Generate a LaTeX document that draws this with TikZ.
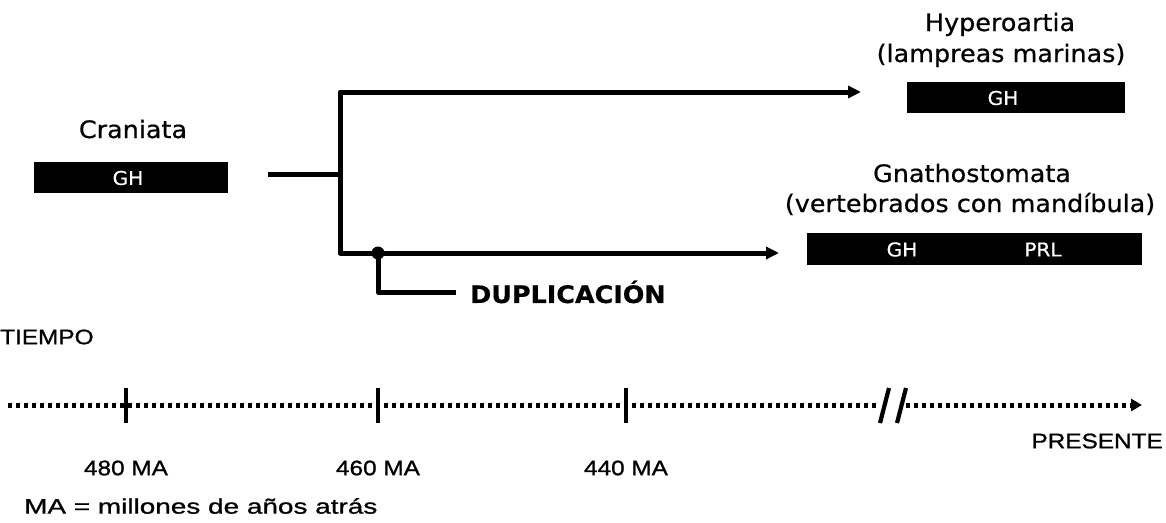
\documentclass[tikz,border=0pt]{standalone}
\usepackage{fontspec}
\setmainfont{DejaVu Sans}[FakeStretch=1.06, FakeBold=0.6]
\newfontfamily\arialf{Liberation Sans}[FakeStretch=1.16, FakeBold=1]
\newfontfamily\arialw{Liberation Sans}[FakeStretch=1.33, FakeBold=1]
\usetikzlibrary{arrows.meta}
\tikzset{
  lbl/.style={font=\fontsize{24}{29}\selectfont, inner sep=0pt},
  genebar/.style={fill=black, draw=none, inner sep=0pt},
  gene/.style={text=white, font=\fontsize{19}{21}\selectfont, inner sep=0pt},
  treeline/.style={line width=5pt, line join=round},
  tip/.style={-{Triangle[length=13pt,width=12pt]}},
  dupdot/.style={circle, fill=black, inner sep=0pt, minimum size=13pt},
  axisline/.style={line width=5pt, dash pattern=on 4pt off 4pt},
  tickline/.style={line width=4.2pt},
  tl/.style={font=\arialf\fontsize{21}{24}\selectfont, inner sep=0pt},
}
\begin{document}
\begin{tikzpicture}[x=1pt, y=-1pt]
\useasboundingbox (0,0) rectangle (1166,522);
% labels of taxa
\node[lbl, anchor=base] (hyp) at (1000,31) {Hyperoartia};
\node[lbl, anchor=base] (hyp2) at (1001,62) {(lampreas marinas)};
\node[lbl, anchor=base] (gna) at (972,182) {Gnathostomata};
\node[lbl, anchor=base] (gna2) at (970,212) {(vertebrados con mandíbula)};
\node[lbl, anchor=base] (cra) at (133,138) {Craniata};
% gene bars
\node[genebar, minimum width=194pt, minimum height=31pt] (cbar) at (131,177.5) {};
\node[gene] (cgh) at (128,178) {GH};
\node[genebar, minimum width=218pt, minimum height=31pt] (hbar) at (1016,97.5) {};
\node[gene] (hgh) at (1003,98) {GH};
\node[genebar, minimum width=335pt, minimum height=32pt] (gbar) at (974.5,249) {};
\node[gene] (ggh) at (902,249.5) {GH};
\node[gene] (gprl) at (1043,249.5) {PRL};
% tree
\coordinate (stem) at (268,174);
\coordinate (fork) at (340,174);
\coordinate (topend) at (861,92);
\coordinate (botend) at (779,253);
\draw[treeline] (stem) -- (fork);
\draw[treeline, tip] (fork) |- (topend);
\draw[treeline, tip] (fork) |- (botend);
\node[dupdot] (dup) at (378,253) {};
\coordinate (dupend) at (456,292);
\draw[treeline] (dup.center) |- (dupend);
\node[font=\bfseries\fontsize{24}{28}\selectfont, anchor=west, inner sep=0pt] (duptxt) at (470,292) {DUPLICACIÓN};
% time axis
\node[tl, anchor=west] (tiempo) at (0,337) {TIEMPO};
\coordinate (t0) at (8,405);
\coordinate (tb1) at (879,405);
\coordinate (tb2) at (906,405);
\coordinate (tend) at (1142,405);
\draw[axisline] (t0) -- (tb1);
\draw[axisline, -{Triangle[length=11pt,width=12pt]}] (tb2) -- (tend);
\foreach \n/\x in {a/126, b/378, c/626}{
  \coordinate (tk\n1) at (\x,388);
  \coordinate (tk\n2) at (\x,423);
  \draw[tickline] (tk\n1) -- (tk\n2);
}
\coordinate (s1a) at (880,423); \coordinate (s1b) at (889,388);
\coordinate (s2a) at (897,423); \coordinate (s2b) at (906,388);
\draw[tickline] (s1a) -- (s1b);
\draw[tickline] (s2a) -- (s2b);
\node[tl] (l480) at (126,468) {480 MA};
\node[tl] (l460) at (378,468) {460 MA};
\node[tl] (l440) at (626,468) {440 MA};
\node[tl, anchor=east] (pres) at (1163,441) {PRESENTE};
\node[tl, font=\arialw\fontsize{21}{24}\selectfont, anchor=west] (ma) at (24,506) {MA = millones de años atrás};
\end{tikzpicture}
\end{document}
